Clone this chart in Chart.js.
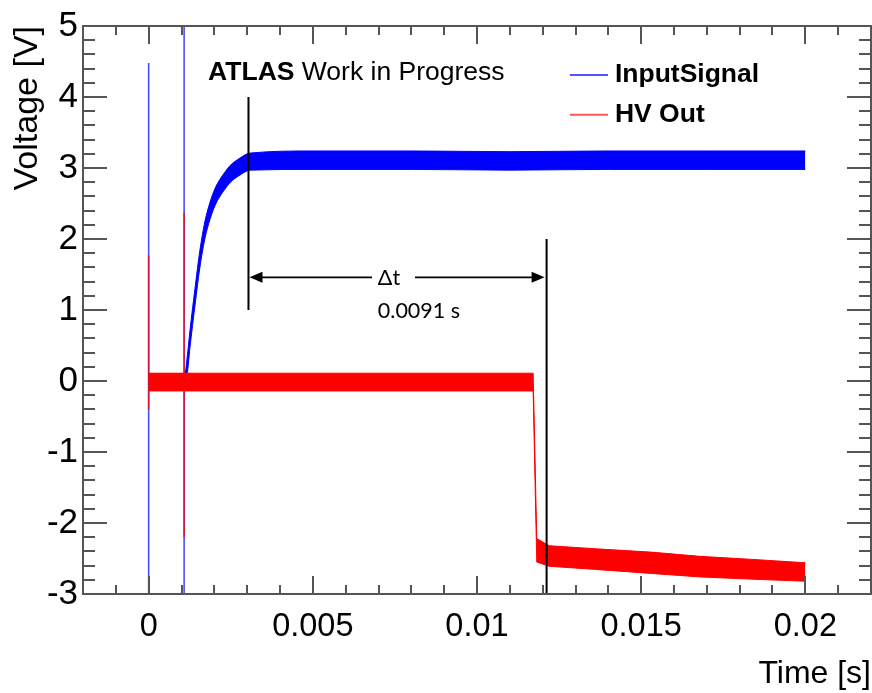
<!DOCTYPE html>
<html><head><meta charset="utf-8">
<script src="https://cdn.jsdelivr.net/npm/chart.js@4.4.0/dist/chart.umd.min.js"></script>
<style>html,body{margin:0;padding:0;background:#fff}canvas{display:block}</style>
</head><body>
<canvas id="c" width="872" height="693"></canvas>
<script>
// ---------------- data ----------------
const xTickValues = [0, 0.005, 0.01, 0.015, 0.02];
const xTickLabels = ['0', '0.005', '0.01', '0.015', '0.02'];
const yTickValues = [-3, -2, -1, 0, 1, 2, 3, 4, 5];
const yTickLabels = ['-3', '-2', '-1', '0', '1', '2', '3', '4', '5'];

// InputSignal: noise band (upper / lower envelope) in volts vs time in s
const inputTime  = [0.00000, 0.00110, 0.00117, 0.00126, 0.00141, 0.00156, 0.00171, 0.00187, 0.00202, 0.00217, 0.00232, 0.00247, 0.00278, 0.00309, 0.0050, 0.0080, 0.0110, 0.0140, 0.0170, 0.0200];
const inputUpper = [0.10, 0.10, 0.32, 0.72, 1.30, 1.84, 2.24, 2.52, 2.71, 2.84, 2.94, 3.03, 3.14, 3.21, 3.24, 3.24, 3.23, 3.24, 3.24, 3.24];
const inputLower = [-0.05, -0.05, 0.08, 0.48, 1.06, 1.60, 2.00, 2.28, 2.47, 2.60, 2.70, 2.79, 2.90, 2.97, 2.98, 2.98, 2.97, 2.98, 2.98, 2.98];
// InputSignal spikes
const inputSpikeTime = [0.0000, 0.00108];
const inputSpikeMin  = [-3.0, -3.0];
const inputSpikeMax  = [4.48, 5.0];

// HV Out: noise band
const hvTime  = [0.0000, 0.01171, 0.01182, 0.0122, 0.0135, 0.0153, 0.0168, 0.0183, 0.0200];
const hvUpper = [0.11, 0.11, -2.22, -2.32, -2.36, -2.41, -2.47, -2.51, -2.56];
const hvLower = [-0.14, -0.14, -2.55, -2.61, -2.65, -2.71, -2.76, -2.79, -2.82];
// HV Out spikes
const hvSpikeTime = [0.0000, 0.00108];
const hvSpikeMin  = [-0.40, -2.20];
const hvSpikeMax  = [1.77, 2.37];

// Annotation (delta t marker)
const markerTime = [0.00304, 0.01212];
const markerLow  = [1.0, -3.0];
const markerHigh = [4.0, 2.0];
const arrowV = 1.46;
const deltaLabel = 'Δt';
const deltaValue = '0.0091 s';

// ---------------- chart ----------------
const BLUE = '#0000ff', RED = '#ff0000';
const band = (t, v) => t.map((x, i) => ({x: x, y: v[i]}));
const spike = (t, lo, hi) => [{x: t, y: lo}, {x: t, y: hi}];
const lineBase = {pointRadius: 0, tension: 0, borderWidth: 1};
const smooth = {cubicInterpolationMode: 'monotone'};

const datasets = [
  Object.assign({label: 'HV Out', data: band(hvTime, hvUpper), borderColor: RED, backgroundColor: RED, fill: false}, lineBase),
  Object.assign({label: 'HV Out (low)', data: band(hvTime, hvLower), borderColor: RED, backgroundColor: RED, fill: '-1'}, lineBase),
];
hvSpikeTime.forEach((t, i) => datasets.push(Object.assign({label: 'HV spike', data: spike(t, hvSpikeMin[i], hvSpikeMax[i]), borderColor: 'rgba(255,0,0,0.75)', fill: false}, lineBase, {borderWidth: 1.6})));
datasets.push(Object.assign({label: 'InputSignal', data: band(inputTime, inputUpper), borderColor: BLUE, backgroundColor: BLUE, fill: false}, lineBase, smooth));
datasets.push(Object.assign({label: 'InputSignal (low)', data: band(inputTime, inputLower), borderColor: BLUE, backgroundColor: BLUE, fill: '-1'}, lineBase, smooth));
inputSpikeTime.forEach((t, i) => datasets.push(Object.assign({label: 'Input spike', data: spike(t, inputSpikeMin[i], inputSpikeMax[i]), borderColor: 'rgba(0,0,255,0.7)', fill: false}, lineBase, {borderWidth: 1.6})));

const legendItems = [
  {label: 'InputSignal', color: '#5555ff'},
  {label: 'HV Out', color: '#ff5555'},
];

const FONT = '"Liberation Sans", Arial, sans-serif';

const decor = {
  id: 'decor',
  afterDatasetsDraw(chart) {
    const {ctx, chartArea: a, scales: {x, y}} = chart;
    ctx.save();
    // --- delta-t annotation ---
    ctx.strokeStyle = '#000'; ctx.fillStyle = '#000'; ctx.lineWidth = 2;
    markerTime.forEach((t, i) => {
      const px = x.getPixelForValue(t);
      ctx.beginPath();
      ctx.moveTo(px, y.getPixelForValue(markerLow[i]));
      ctx.lineTo(px, y.getPixelForValue(markerHigh[i]));
      ctx.stroke();
    });
    const ay = y.getPixelForValue(arrowV);
    const x1 = x.getPixelForValue(markerTime[0]) + 1, x2 = x.getPixelForValue(markerTime[1]) - 2;
    const gapL = x.getPixelForValue(0.0068), gapR = x.getPixelForValue(0.00811);
    ctx.lineWidth = 1.6;
    ctx.beginPath(); ctx.moveTo(x1 + 8, ay); ctx.lineTo(gapL, ay); ctx.stroke();
    ctx.beginPath(); ctx.moveTo(gapR, ay); ctx.lineTo(x2 - 8, ay); ctx.stroke();
    ctx.beginPath(); ctx.moveTo(x1, ay); ctx.lineTo(x1 + 13, ay - 5.5); ctx.lineTo(x1 + 13, ay + 5.5); ctx.closePath(); ctx.fill();
    ctx.beginPath(); ctx.moveTo(x2, ay); ctx.lineTo(x2 - 13, ay - 5.5); ctx.lineTo(x2 - 13, ay + 5.5); ctx.closePath(); ctx.fill();
    ctx.font = '21.5px Lato, "Open Sans", sans-serif';
    ctx.textAlign = 'left'; ctx.textBaseline = 'middle';
    const tx = x.getPixelForValue(0.00698);
    ctx.fillText(deltaLabel, tx, ay + 1);
    ctx.fillText(deltaValue, tx, y.getPixelForValue(0.99));

    // --- ATLAS label ---
    ctx.textBaseline = 'alphabetic';
    const lx = x.getPixelForValue(0.00181), ly = y.getPixelForValue(4.24);
    ctx.font = 'bold 26.5px ' + FONT;
    ctx.fillText('ATLAS', lx, ly);
    const w = ctx.measureText('ATLAS ').width;
    ctx.font = '26.5px ' + FONT;
    ctx.fillText('Work in Progress', lx + w, ly);

    // --- legend ---
    const legV = [4.31, 3.75];
    legendItems.forEach((it, i) => {
      const py = y.getPixelForValue(legV[i]);
      ctx.strokeStyle = it.color; ctx.lineWidth = 2;
      ctx.beginPath(); ctx.moveTo(x.getPixelForValue(0.01283), py); ctx.lineTo(x.getPixelForValue(0.01399), py); ctx.stroke();
      ctx.fillStyle = '#000'; ctx.font = 'bold 26.5px ' + FONT; ctx.textBaseline = 'middle';
      ctx.fillText(it.label, x.getPixelForValue(0.0142), py);
    });

    // --- frame and inner ticks ---
    ctx.strokeStyle = '#555'; ctx.lineWidth = 2;
    ctx.strokeRect(a.left, a.top, a.right - a.left, a.bottom - a.top);
    ctx.beginPath();
    for (let i = -2; i <= 22; i++) {
      const px = Math.round(x.getPixelForValue(i / 1000));
      const len = (i % 5 === 0) ? 18 : 9;
      ctx.moveTo(px, a.bottom); ctx.lineTo(px, a.bottom - len);
      ctx.moveTo(px, a.top); ctx.lineTo(px, a.top + len);
    }
    for (let i = -15; i <= 25; i++) {
      const py = Math.round(y.getPixelForValue(i / 5));
      const len = (i % 5 === 0) ? 24 : 12;
      ctx.moveTo(a.left, py); ctx.lineTo(a.left + len, py);
      ctx.moveTo(a.right, py); ctx.lineTo(a.right - len, py);
    }
    ctx.stroke();
    ctx.restore();
  }
};

new Chart(document.getElementById('c'), {
  type: 'line',
  data: {datasets: datasets},
  options: {
    responsive: false,
    animation: false,
    devicePixelRatio: 1,
    events: [],
    layout: {padding: {top: 24, right: 1, left: 0, bottom: 0}},
    plugins: {legend: {display: false}, tooltip: {enabled: false}},
    scales: {
      x: {
        type: 'linear', min: -0.002, max: 0.022,
        grid: {display: false, drawTicks: false}, border: {display: false},
        afterBuildTicks: s => { s.ticks = xTickValues.map(v => ({value: v})); },
        afterFit: s => { s.height = 99; },
        ticks: {
          autoSkip: false, maxRotation: 0, padding: 14, color: '#000',
          font: {family: FONT, size: 32.5},
          callback: v => xTickLabels[xTickValues.indexOf(v)]
        },
        title: {display: true, text: 'Time [s]', align: 'end', color: '#000',
                font: {family: FONT, size: 32}, padding: {top: 0, bottom: 0}}
      },
      y: {
        type: 'linear', min: -3, max: 5,
        grid: {display: false, drawTicks: false}, border: {display: false},
        afterBuildTicks: s => { s.ticks = yTickValues.map(v => ({value: v})); },
        afterFit: s => { s.width = 83; },
        ticks: {
          autoSkip: false, padding: 5, color: '#000',
          font: {family: FONT, size: 35},
          callback: v => yTickLabels[yTickValues.indexOf(v)]
        },
        title: {display: true, text: 'Voltage [V]', align: 'end', color: '#000',
                font: {family: FONT, size: 34}, padding: {top: 7, bottom: 0}}
      }
    }
  },
  plugins: [decor]
});
</script>
</body></html>
